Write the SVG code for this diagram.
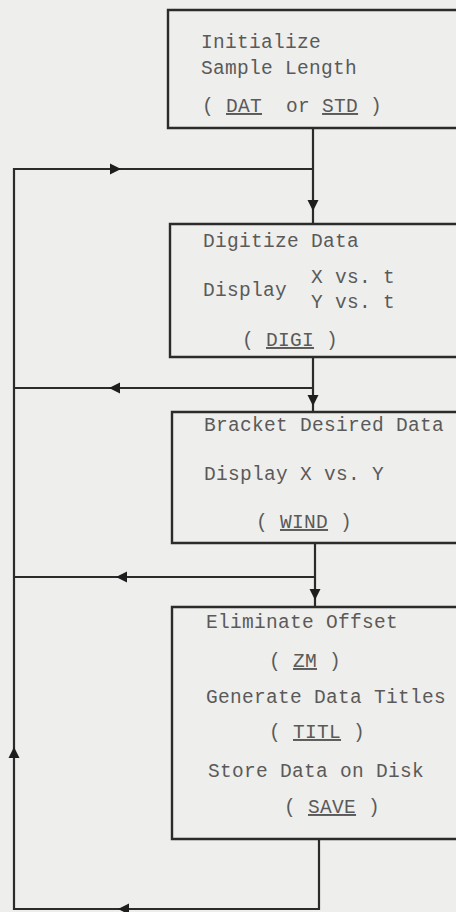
<svg xmlns="http://www.w3.org/2000/svg" width="456" height="912" viewBox="0 0 456 912">
<style>
.bg{fill:#eeeeec}
.box{fill:none;stroke:#2b2b2b;stroke-width:2.4}
.ln{fill:none;stroke:#2b2b2b;stroke-width:2.2}
.ah{fill:#1e1e1e}
text{font-family:"Liberation Mono","DejaVu Sans Mono",monospace;font-size:19.5px;letter-spacing:0.3px;fill:#5a5a5a}
.u{text-decoration:underline}
</style>
<defs>
<path id="arrow" d="M-5,-5.5 L6,0 L-5,5.5 Z"/>
</defs>
<rect class="bg" x="0" y="0" width="456" height="912"/>
<g id="connectors">
<path class="ln" d="M313,128 V225"/>
<path class="ln" d="M313,169 H14 V909 H319 V839"/>
<path class="ln" d="M313,357 V412"/>
<path class="ln" d="M313,388 H14"/>
<path class="ln" d="M315,543 V607"/>
<path class="ln" d="M315,577 H14"/>
<use class="ah" href="#arrow" transform="translate(115,169)"/>
<use class="ah" href="#arrow" transform="translate(313,205) rotate(90)"/>
<use class="ah" href="#arrow" transform="translate(115,388) rotate(180)"/>
<use class="ah" href="#arrow" transform="translate(313,400) rotate(90)"/>
<use class="ah" href="#arrow" transform="translate(122,577) rotate(180)"/>
<use class="ah" href="#arrow" transform="translate(315,594) rotate(90)"/>
<use class="ah" href="#arrow" transform="translate(14,753) rotate(-90)"/>
<use class="ah" href="#arrow" transform="translate(124,909) rotate(180)"/>
</g>
<g id="init">
<path class="box" d="M460,10 H168 V128 H460"/>
<text x="201" y="48">Initialize</text>
<text x="201" y="74">Sample Length</text>
<text x="202" y="112">( <tspan class="u">DAT</tspan>&#160; or <tspan class="u">STD</tspan> )</text>
</g>
<g id="digi">
<path class="box" d="M460,224 H170 V357 H460"/>
<text x="203" y="247">Digitize Data</text>
<text x="203" y="296">Display</text>
<text x="311" y="283">X vs. t</text>
<text x="311" y="308">Y vs. t</text>
<text x="242" y="346">( <tspan class="u">DIGI</tspan> )</text>
</g>
<g id="wind">
<path class="box" d="M460,412 H172 V543 H460"/>
<text x="204" y="431">Bracket Desired Data</text>
<text x="204" y="480">Display X vs. Y</text>
<text x="256" y="528">( <tspan class="u">WIND</tspan> )</text>
</g>
<g id="save">
<path class="box" d="M460,607 H172 V839 H460"/>
<text x="206" y="628">Eliminate Offset</text>
<text x="269" y="667">( <tspan class="u">ZM</tspan> )</text>
<text x="206" y="703">Generate Data Titles</text>
<text x="269" y="738">( <tspan class="u">TITL</tspan> )</text>
<text x="208" y="777">Store Data on Disk</text>
<text x="284" y="813">( <tspan class="u">SAVE</tspan> )</text>
</g>
</svg>
